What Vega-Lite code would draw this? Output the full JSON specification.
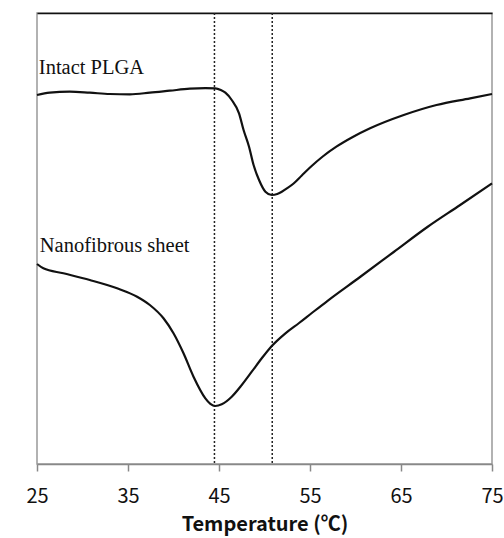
{
  "$schema": "https://vega.github.io/schema/vega-lite/v6.json",
  "width": 455,
  "height": 451,
  "autosize": "none",
  "padding": {"left": 37, "top": 13, "right": 12, "bottom": 74},
  "background": "white",
  "config": {"view": {"stroke": "#999", "strokeWidth": 1.5}},
  "datasets": {
    "curves": [
      {"s": "Intact PLGA", "t": 25.0, "v": 369},
      {"s": "Intact PLGA", "t": 26.4, "v": 371.3},
      {"s": "Intact PLGA", "t": 28.6, "v": 372.3},
      {"s": "Intact PLGA", "t": 30.8, "v": 371.3},
      {"s": "Intact PLGA", "t": 33.0, "v": 370},
      {"s": "Intact PLGA", "t": 35.2, "v": 369.7},
      {"s": "Intact PLGA", "t": 37.4, "v": 371.3},
      {"s": "Intact PLGA", "t": 39.6, "v": 373.3},
      {"s": "Intact PLGA", "t": 41.8, "v": 375.3},
      {"s": "Intact PLGA", "t": 43.5, "v": 375.8},
      {"s": "Intact PLGA", "t": 44.6, "v": 375.7},
      {"s": "Intact PLGA", "t": 45.2, "v": 374},
      {"s": "Intact PLGA", "t": 45.7, "v": 371.3},
      {"s": "Intact PLGA", "t": 46.4, "v": 364},
      {"s": "Intact PLGA", "t": 47.2, "v": 350.7},
      {"s": "Intact PLGA", "t": 47.7, "v": 334},
      {"s": "Intact PLGA", "t": 48.3, "v": 317.3},
      {"s": "Intact PLGA", "t": 48.8, "v": 299},
      {"s": "Intact PLGA", "t": 49.4, "v": 284},
      {"s": "Intact PLGA", "t": 50.1, "v": 272.3},
      {"s": "Intact PLGA", "t": 50.8, "v": 269},
      {"s": "Intact PLGA", "t": 51.4, "v": 270},
      {"s": "Intact PLGA", "t": 51.9, "v": 272.3},
      {"s": "Intact PLGA", "t": 52.5, "v": 275.8},
      {"s": "Intact PLGA", "t": 53.2, "v": 280.5},
      {"s": "Intact PLGA", "t": 54.1, "v": 288.5},
      {"s": "Intact PLGA", "t": 55.0, "v": 296.5},
      {"s": "Intact PLGA", "t": 56.4, "v": 307.5},
      {"s": "Intact PLGA", "t": 57.9, "v": 317.3},
      {"s": "Intact PLGA", "t": 59.7, "v": 327},
      {"s": "Intact PLGA", "t": 61.6, "v": 335.7},
      {"s": "Intact PLGA", "t": 65.3, "v": 349},
      {"s": "Intact PLGA", "t": 68.9, "v": 359},
      {"s": "Intact PLGA", "t": 72.6, "v": 365.7},
      {"s": "Intact PLGA", "t": 75.0, "v": 370},
      {"s": "Nanofibrous sheet", "t": 25.0, "v": 200},
      {"s": "Nanofibrous sheet", "t": 25.7, "v": 195.7},
      {"s": "Nanofibrous sheet", "t": 27.9, "v": 190.7},
      {"s": "Nanofibrous sheet", "t": 30.8, "v": 184},
      {"s": "Nanofibrous sheet", "t": 33.8, "v": 175.7},
      {"s": "Nanofibrous sheet", "t": 36.0, "v": 167.3},
      {"s": "Nanofibrous sheet", "t": 37.4, "v": 159},
      {"s": "Nanofibrous sheet", "t": 38.9, "v": 145.7},
      {"s": "Nanofibrous sheet", "t": 40.0, "v": 130.7},
      {"s": "Nanofibrous sheet", "t": 41.1, "v": 110.7},
      {"s": "Nanofibrous sheet", "t": 42.2, "v": 87.3},
      {"s": "Nanofibrous sheet", "t": 43.5, "v": 65.7},
      {"s": "Nanofibrous sheet", "t": 44.05, "v": 60.2},
      {"s": "Nanofibrous sheet", "t": 44.6, "v": 58},
      {"s": "Nanofibrous sheet", "t": 45.3, "v": 59.7},
      {"s": "Nanofibrous sheet", "t": 46.4, "v": 67.3},
      {"s": "Nanofibrous sheet", "t": 47.5, "v": 79},
      {"s": "Nanofibrous sheet", "t": 48.6, "v": 92.3},
      {"s": "Nanofibrous sheet", "t": 49.7, "v": 105.7},
      {"s": "Nanofibrous sheet", "t": 50.8, "v": 118},
      {"s": "Nanofibrous sheet", "t": 52.3, "v": 130.7},
      {"s": "Nanofibrous sheet", "t": 53.8, "v": 141},
      {"s": "Nanofibrous sheet", "t": 55.2, "v": 151},
      {"s": "Nanofibrous sheet", "t": 56.9, "v": 163},
      {"s": "Nanofibrous sheet", "t": 60.5, "v": 187},
      {"s": "Nanofibrous sheet", "t": 64.2, "v": 212},
      {"s": "Nanofibrous sheet", "t": 67.9, "v": 237},
      {"s": "Nanofibrous sheet", "t": 71.5, "v": 259},
      {"s": "Nanofibrous sheet", "t": 75.0, "v": 280.7}
    ],
    "labels": [
      {"label": "Intact PLGA", "t": 25.2, "v": 390},
      {"label": "Nanofibrous sheet", "t": 25.3, "v": 212}
    ],
    "marks": [
      {"t": 44.5},
      {"t": 50.85}
    ]
  },
  "resolve": {"axis": {"x": "independent"}},
  "layer": [
    {
      "data": {"name": "marks"},
      "mark": {"type": "rule", "color": "#222", "strokeWidth": 1.5, "strokeDash": [2, 2]},
      "encoding": {
        "x": {
          "field": "t", "type": "quantitative",
          "scale": {"domain": [25, 75], "nice": false, "zero": false},
          "axis": {"orient": "top", "labels": false, "ticks": false, "grid": false, "title": null, "domainColor": "#111", "domainWidth": 1.5}
        }
      }
    },
    {
      "data": {"name": "curves"},
      "mark": {"type": "line", "color": "#111", "strokeWidth": 2.2, "interpolate": "monotone"},
      "encoding": {
        "x": {
          "field": "t", "type": "quantitative",
          "scale": {"domain": [25, 75], "nice": false, "zero": false},
          "axis": {
            "orient": "bottom", "values": [25, 35, 45, 55, 65, 75], "grid": false,
            "domainColor": "#888", "domainWidth": 1.5, "tickColor": "#888", "tickWidth": 1.5, "tickSize": 7,
            "labelFont": "Noto Sans CJK KR", "labelFontSize": 20, "labelColor": "#111", "labelPadding": 15,
            "labelFlush": false, "labelOverlap": false,
            "title": "Temperature (℃)", "titleFont": "Noto Sans CJK KR", "titleFontSize": 20, "titleFontWeight": "bold", "titleColor": "#111", "titlePadding": 8
          }
        },
        "y": {
          "field": "v", "type": "quantitative",
          "scale": {"domain": [0, 451], "nice": false, "zero": false},
          "axis": {
            "labels": false, "ticks": false, "grid": false, "domainColor": "#999", "domainWidth": 1.5,
            "title": "← Endotherm", "titleFont": "Noto Sans CJK KR", "titleFontSize": 19.5, "titleFontWeight": "bold", "titleColor": "#111", "titlePadding": 10
          }
        },
        "detail": {"field": "s"}
      }
    },
    {
      "data": {"name": "labels"},
      "mark": {"type": "text", "font": "Liberation Serif", "fontSize": 20.5, "align": "left", "baseline": "alphabetic", "color": "#111"},
      "encoding": {
        "x": {"field": "t", "type": "quantitative", "axis": null},
        "y": {"field": "v", "type": "quantitative", "axis": null},
        "text": {"field": "label"}
      }
    }
  ]
}
